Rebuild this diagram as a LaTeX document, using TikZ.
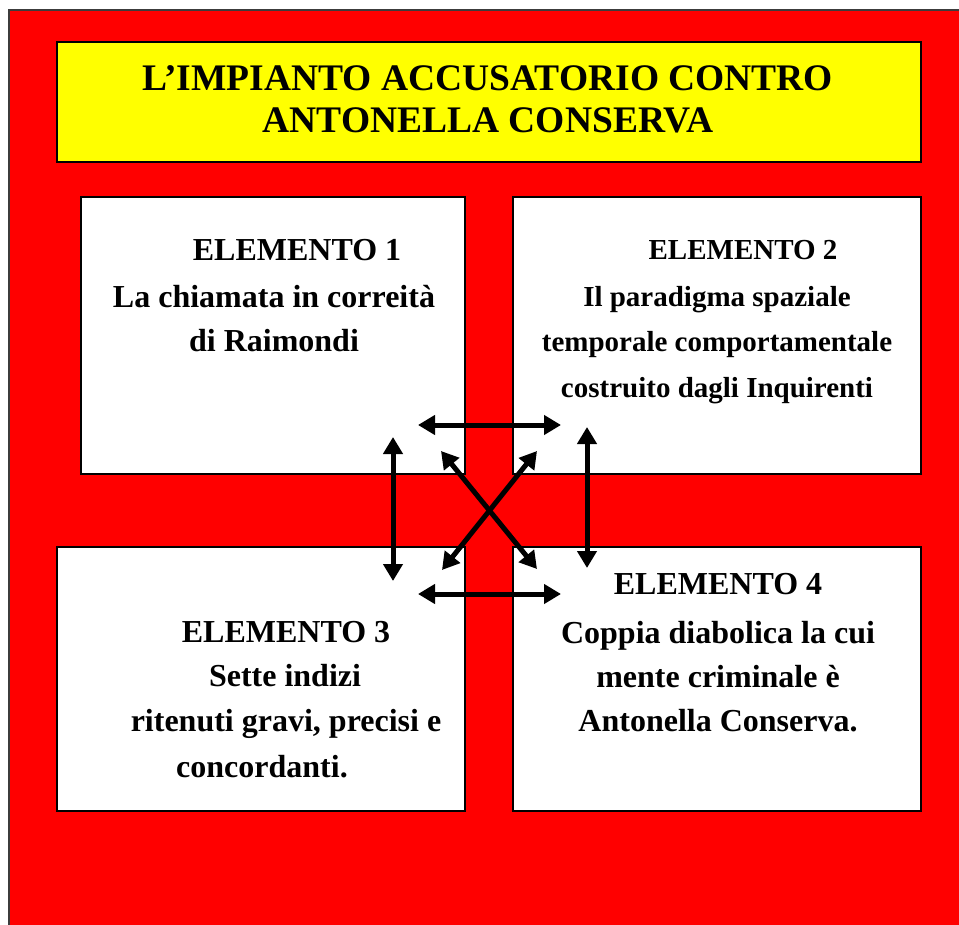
\documentclass[tikz,border=0pt]{standalone}
\usepackage{fontspec}
\setmainfont{Liberation Serif}
\usetikzlibrary{arrows.meta}
\tikzset{
  x=1pt, y=-1pt,
  panel/.style={draw=black, line width=1.6pt, fill=white},
  titlebox/.style={draw=black, line width=1.6pt, fill={rgb,255:red,255;green,255;blue,0}},
  ttl/.style={anchor=base, inner sep=0pt, font=\fontsize{37.5}{42}\selectfont\bfseries},
  txt/.style={anchor=base, inner sep=0pt, font=\fontsize{32}{38}\selectfont\bfseries},
  txtb/.style={anchor=base, inner sep=0pt, font=\fontsize{29}{35}\selectfont\bfseries},
  link/.style={line width=5pt, {Triangle[width=19pt,length=17pt]}-{Triangle[width=19pt,length=17pt]}}
}
\begin{document}
\begin{tikzpicture}
\useasboundingbox (0,0) rectangle (959,925);
\clip (0,0) rectangle (959,925);
\fill[white] (0,0) rectangle (959,925);
\draw[fill={rgb,255:red,255;green,0;blue,0}, draw={rgb,255:red,60;green,60;blue,60}, line width=1.5pt] (9,10) rectangle (990,960);
% title
\draw[titlebox] (57,42) rectangle (921,162);
\node[ttl] (t1) at (488,91) {L’IMPIANTO ACCUSATORIO CONTRO};
\node[ttl] (t2) at (488,133) {ANTONELLA CONSERVA};
% panels
\draw[panel] (81,197) rectangle (465,474);
\draw[panel] (513,197) rectangle (921,474);
\draw[panel] (57,547) rectangle (465,811);
\draw[panel] (513,547) rectangle (921,811);
% box 1
\node[txt] (a1) at (297,261) {ELEMENTO 1};
\node[txt] (a2) at (274,308) {La chiamata in correità};
\node[txt] (a3) at (274,352) {di Raimondi};
% box 2
\node[txtb] (b1) at (743,260) {ELEMENTO 2};
\node[txtb] (b2) at (717,307) {Il paradigma spaziale};
\node[txtb] (b3) at (717,352) {temporale comportamentale};
\node[txtb] (b4) at (717,397) {costruito dagli Inquirenti};
% box 3
\node[txt] (c1) at (286,642) {ELEMENTO 3};
\node[txt] (c2) at (285,686) {Sette indizi};
\node[txt] (c3) at (286,731) {ritenuti gravi, precisi e};
\node[txt] (c4) at (262,777) {concordanti.};
% box 4
\node[txt] (d1) at (718,594) {ELEMENTO 4};
\node[txt] (d2) at (718,643) {Coppia diabolica la cui};
\node[txt] (d3) at (718,687) {mente criminale è};
\node[txt] (d4) at (718,731) {Antonella Conserva.};
% arrow ends
\coordinate (htl) at (418,425); \coordinate (htr) at (561,425);
\coordinate (hbl) at (418,594); \coordinate (hbr) at (561,594);
\coordinate (vlt) at (393,437); \coordinate (vlb) at (393,581);
\coordinate (vrt) at (587,427); \coordinate (vrb) at (587,568);
\coordinate (d1s) at (441,451); \coordinate (d1e) at (537,569);
\coordinate (d2s) at (537,451); \coordinate (d2e) at (442,570);
\draw[link] (htl) -- (htr);
\draw[link] (hbl) -- (hbr);
\draw[link] (vlt) -- (vlb);
\draw[link] (vrt) -- (vrb);
\draw[link] (d1s) -- (d1e);
\draw[link] (d2s) -- (d2e);
\end{tikzpicture}
\end{document}
